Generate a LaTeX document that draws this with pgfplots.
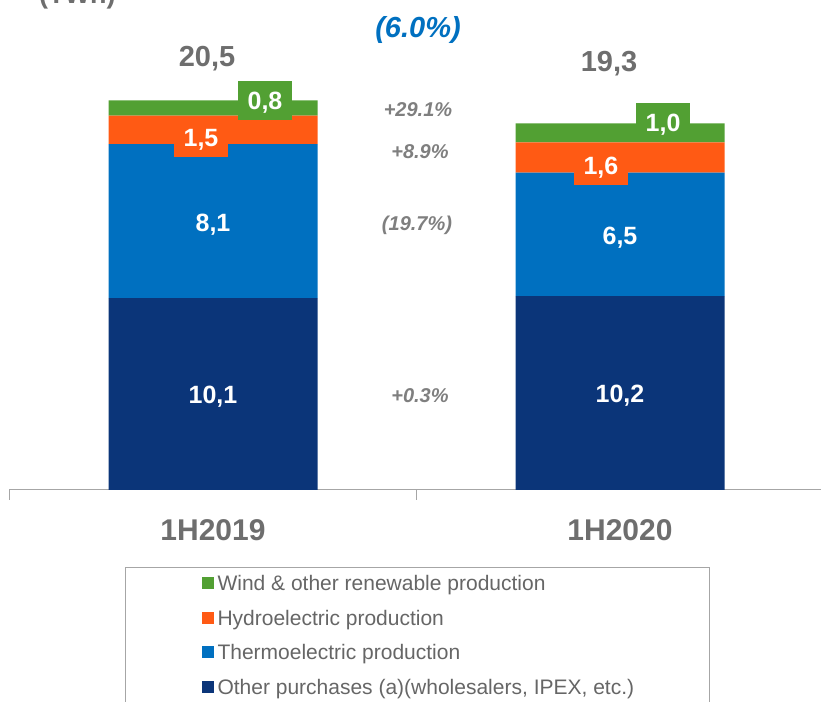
\documentclass[border=0pt]{standalone}
\usepackage{fontspec}
\setmainfont{Liberation Sans}
\usepackage{pgfplots}
\pgfplotsset{compat=1.18}
\definecolor{cnavy}{HTML}{0B3579}
\definecolor{cthermo}{HTML}{0070C0}
\definecolor{corange}{HTML}{FF5A14}
\definecolor{cgreen}{HTML}{52A033}
\definecolor{cgray}{HTML}{6E6E6E}
\definecolor{cpct}{HTML}{7F7F7F}
\definecolor{clegtext}{HTML}{666666}
\definecolor{caxis}{HTML}{A6A6A6}
\begin{document}
\begin{tikzpicture}[
  lab/.style={text height=17.9pt, text depth=0pt, inner sep=0pt, font=\fontsize{25}{30}\selectfont\bfseries, text=white},
  tot/.style={text height=20.8pt, text depth=0pt, inner sep=0pt, font=\fontsize{29}{34}\selectfont\bfseries, text=cgray},
  pct/.style={text height=14.3pt, text depth=0pt, inner sep=0pt, font=\fontsize{20}{24}\selectfont\bfseries\itshape, text=cpct},
  box/.style={lab, minimum width=54pt, minimum height=39pt}
]
\begin{axis}[
  x=407pt, y=19pt,
  xmin=-0.5, xmax=1.5, ymin=0, ymax=25.789,
  ybar stacked, bar width=209pt,
  clip=false,
  axis x line*=bottom, axis y line=none,
  x axis line style={caxis, line width=1pt},
  xtick={0,1}, xticklabels={1H2019,1H2020},
  major tick length=0pt,
  minor xtick={-0.5,0.5,1.5}, minor tick length=10pt,
  tick align=outside,
  minor tick style={caxis, line width=1pt},
  ytick=\empty,
  xticklabel style={text height=21.5pt, text depth=0pt, inner sep=0pt, anchor=north, yshift=-29pt, font=\fontsize{30}{36}\selectfont\bfseries, text=cgray},
  reverse legend,
  legend cell align=left,
  legend image code/.code={\fill[#1,draw=none] (0pt,-4pt) rectangle (12pt,8pt);},
  legend style={at={(0.1419,-0.1571)}, anchor=north west, draw=caxis, line width=1pt,
    inner xsep=76pt, inner ysep=0pt, column sep=4pt, row sep=0pt,
    font=\fontsize{21}{25}\selectfont, text=clegtext,
    nodes={inner sep=0pt, text height=23pt, text depth=11.7pt}},
]
\addplot[fill=cnavy, draw=none] coordinates {(0,10.1) (1,10.2)};
\addlegendentry{\makebox[416pt][l]{Other purchases (a)(wholesalers, IPEX, etc.)}}
\addplot[fill=cthermo, draw=none] coordinates {(0,8.1) (1,6.5)};
\addlegendentry{\makebox[416pt][l]{Thermoelectric production}}
\addplot[fill=corange, draw=none] coordinates {(0,1.5) (1,1.6)};
\addlegendentry{\makebox[416pt][l]{Hydroelectric production}}
\addplot[fill=cgreen, draw=none] coordinates {(0,0.8) (1,1.0)};
\addlegendentry{\makebox[416pt][l]{Wind \& other renewable production}}

\coordinate (a1) at (axis cs:0,5.0);
\coordinate (a2) at (axis cs:0,14.1);
\coordinate (a3) at (axis cs:-0.0295,18.55);
\coordinate (a4) at (axis cs:0.1278,20.5);
\coordinate (b1) at (axis cs:1,5.1);
\coordinate (b2) at (axis cs:1,13.4);
\coordinate (b3) at (axis cs:0.953,17.1);
\coordinate (b4) at (axis cs:1.1057,19.32);
\coordinate (t1) at (axis cs:-0.0147,22.84);
\coordinate (t2) at (axis cs:0.973,22.58);
\coordinate (p1) at (axis cs:0.5037,20.05);
\coordinate (p2) at (axis cs:0.5086,17.84);
\coordinate (p3) at (axis cs:0.5012,14.05);
\coordinate (p4) at (axis cs:0.5086,5.0);
\coordinate (p5) at (axis cs:0.5037,24.34);
\coordinate (unit) at (axis cs:-0.4275,25.63);
\coordinate (bbTL) at (axis cs:-0.52334,25.789);
\coordinate (bbBR) at (axis cs:1.49386,-11.158);
\end{axis}
% in-bar labels
\node[lab] at (a1) {10,1};
\node[lab] at (a2) {8,1};
\node[box, fill=corange] at (a3) {1,5};
\node[box, fill=cgreen] at (a4) {0,8};
\node[lab] at (b1) {10,2};
\node[lab] at (b2) {6,5};
\node[box, fill=corange] at (b3) {1,6};
\node[box, fill=cgreen] at (b4) {1,0};
% totals
\node[tot] at (t1) {20,5};
\node[tot] at (t2) {19,3};
% variations
\node[pct] at (p1) {+29.1\%};
\node[pct] at (p2) {+8.9\%};
\node[pct] at (p3) {(19.7\%)};
\node[pct] at (p4) {+0.3\%};
\node[tot, text=cthermo, font=\fontsize{29}{34}\selectfont\bfseries\itshape] at (p5) {(6.0\%)};
\node[anchor=base west, inner sep=0pt, text=cgray, font=\fontsize{27}{32}\selectfont\bfseries] at (unit) {(TWh)};
\pgfresetboundingbox
\useasboundingbox (bbTL) rectangle (bbBR);
\end{tikzpicture}
\end{document}
